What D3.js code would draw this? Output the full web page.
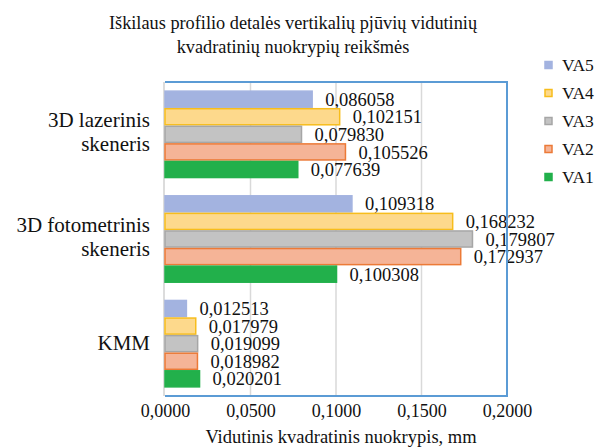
<!DOCTYPE html>
<html>
<head>
<meta charset="utf-8">
<script src="https://cdn.jsdelivr.net/npm/d3@7/dist/d3.min.js"></script>
<style>
  html, body { margin: 0; padding: 0; background: #fff; }
  svg { display: block; }
  text { font-family: "Liberation Serif", "Times New Roman", serif; fill: #111; }
</style>
</head>
<body>
<svg id="chart" width="608" height="447"></svg>
<script>
// Categories, top to bottom
const categories = [["3D lazerinis", "skeneris"], ["3D fotometrinis", "skeneris"], ["KMM"]];
const categoryKeys = ["laz", "foto", "kmm"];

// Series, drawn top to bottom inside each group
const seriesNames = ["VA5", "VA4", "VA3", "VA2", "VA1"];
const VA5 = [0.086058, 0.109318, 0.012513];
const VA4 = [0.102151, 0.168232, 0.017979];
const VA3 = [0.079830, 0.179807, 0.019099];
const VA2 = [0.105526, 0.172937, 0.018982];
const VA1 = [0.077639, 0.100308, 0.020201];
const seriesValues = [VA5, VA4, VA3, VA2, VA1];

const xTicks = [0, 0.05, 0.1, 0.15, 0.2];

const fills   = ["#a3b3e0", "#fdd98c", "#c3c3c3", "#f5b497", "#22b04b"];
const strokes = ["#a3b3e0", "#f7bd1c", "#a6a6a6", "#ec7a37", "#22b04b"];

const fmt = v => d3.format(".6f")(v).replace(".", ",");
const fmtTick = v => d3.format(".4f")(v).replace(".", ",");

const svg = d3.select("#chart");
const plot = { left: 165, right: 507, top: 82, bottom: 396 };

const x = d3.scaleLinear().domain([0, 0.2]).range([plot.left, plot.right]);
const y0 = d3.scaleBand().domain(categoryKeys).range([plot.top, plot.bottom]).paddingInner(0.16).paddingOuter(0.08);
const y1 = d3.scaleBand().domain(seriesNames).range([0, y0.bandwidth()]).padding(0);

// Title
svg.append("text")
  .attr("x", 293).attr("y", 29)
  .attr("text-anchor", "middle")
  .style("font-size", "18.3px")
  .selectAll("tspan")
  .data(["Iškilaus profilio detalės vertikalių pjūvių vidutinių", "kvadratinių nuokrypių reikšmės"])
  .join("tspan")
  .attr("x", 293)
  .attr("dy", (d, i) => i === 0 ? 0 : 24)
  .text(d => d);

// Gridlines
svg.append("g")
  .selectAll("line")
  .data(xTicks.slice(1, -1))
  .join("line")
  .attr("x1", d => x(d)).attr("x2", d => x(d))
  .attr("y1", plot.top).attr("y2", plot.bottom)
  .attr("stroke", "#d9d9d9").attr("stroke-width", 1.5);

// Left axis line
svg.append("line")
  .attr("x1", plot.left - 1).attr("x2", plot.left - 1)
  .attr("y1", plot.top).attr("y2", plot.bottom)
  .attr("stroke", "#d0d0d0").attr("stroke-width", 1.5);

// Bars
const groups = svg.append("g").selectAll("g")
  .data(categoryKeys)
  .join("g")
  .attr("transform", d => `translate(0,${y0(d)})`);

groups.each(function(key, ci) {
  const g = d3.select(this);
  seriesNames.forEach((s, si) => {
    const v = seriesValues[si][ci];
    g.append("rect")
      .attr("x", x(0))
      .attr("y", y1(s) + 0.75)
      .attr("width", x(v) - x(0))
      .attr("height", y1.bandwidth() - 1.5)
      .attr("fill", fills[si])
      .attr("stroke", strokes[si])
      .attr("stroke-width", 1.5);
    g.append("text")
      .attr("x", x(v) + 13)
      .attr("y", y1(s) + y1.bandwidth() / 2)
      .attr("dy", "0.36em")
      .style("font-size", "18.5px")
      .text(fmt(v));
  });
});

// Plot frame (top, right, bottom)
svg.append("path")
  .attr("d", `M${plot.left},${plot.top}H${plot.right}V${plot.bottom}H${plot.left}`)
  .attr("fill", "none")
  .attr("stroke", "#5b9bd5")
  .attr("stroke-width", 2);

// Category labels
categories.forEach((lines, ci) => {
  const cy = y0(categoryKeys[ci]) + y0.bandwidth() / 2;
  const first = lines.length === 2 ? cy - 7.3 : cy + 6.3;
  const t = svg.append("text")
    .attr("text-anchor", "end")
    .style("font-size", "21px");
  lines.forEach((ln, li) => {
    t.append("tspan").attr("x", 150).attr("y", first + li * 24).text(ln);
  });
});

// X axis
const xAxis = d3.axisBottom(x).tickValues(xTicks).tickFormat(fmtTick).tickSize(0).tickPadding(0);
const ax = svg.append("g").attr("transform", `translate(0,${plot.bottom})`).call(xAxis);
ax.select(".domain").remove();
ax.selectAll("text")
  .attr("y", 21).attr("dy", 0)
  .style("font-size", "18px")
  .style("font-family", "'Liberation Serif', serif")
  .attr("fill", "#111");

svg.append("text")
  .attr("x", 341).attr("y", 443)
  .attr("text-anchor", "middle")
  .style("font-size", "18.5px")
  .text("Vidutinis kvadratinis nuokrypis, mm");

// Legend
const legend = svg.append("g").selectAll("g")
  .data(seriesNames)
  .join("g")
  .attr("transform", (d, i) => `translate(545,${65 + i * 28})`);
legend.append("rect")
  .attr("x", 0).attr("y", -3.5).attr("width", 7).attr("height", 7)
  .attr("fill", (d, i) => fills[i])
  .attr("stroke", (d, i) => strokes[i])
  .attr("stroke-width", 1.5);
legend.append("text")
  .attr("x", 17).attr("y", 0).attr("dy", "0.36em")
  .style("font-size", "17.5px")
  .text(d => d);
</script>
</body>
</html>
